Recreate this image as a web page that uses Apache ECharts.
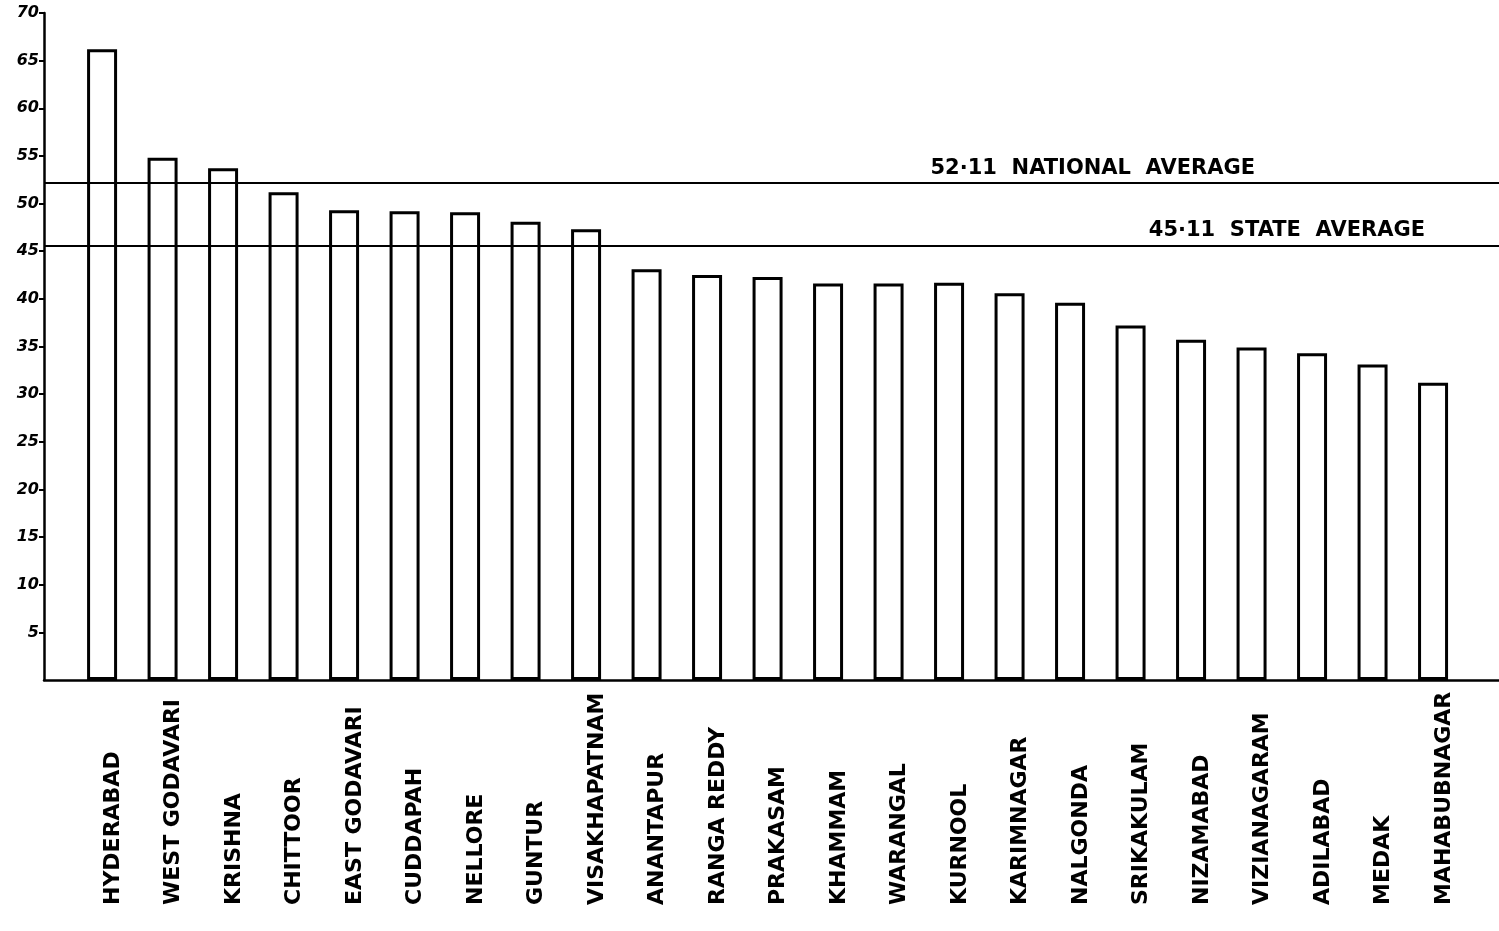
<!DOCTYPE html>
<html>
<head>
<meta charset="utf-8">
<script src="https://cdn.jsdelivr.net/npm/echarts@6/dist/echarts.min.js"></script>
<style>
  html, body { margin: 0; padding: 0; background: #ffffff; }
  #chart { width: 1499px; height: 931px; }
</style>
</head>
<body>
<div id="chart"></div>
<script>
// ---- data ----
const districts = [
  'HYDERABAD', 'WEST GODAVARI', 'KRISHNA', 'CHITTOOR', 'EAST GODAVARI',
  'CUDDAPAH', 'NELLORE', 'GUNTUR', 'VISAKHAPATNAM', 'ANANTAPUR',
  'RANGA REDDY', 'PRAKASAM', 'KHAMMAM', 'WARANGAL', 'KURNOOL',
  'KARIMNAGAR', 'NALGONDA', 'SRIKAKULAM', 'NIZAMABAD', 'VIZIANAGARAM',
  'ADILABAD', 'MEDAK', 'MAHABUBNAGAR'
];
const values = [
  66.2, 54.8, 53.7, 51.2, 49.3,
  49.2, 49.1, 48.1, 47.3, 43.1,
  42.5, 42.3, 41.6, 41.6, 41.7,
  40.6, 39.6, 37.2, 35.7, 34.9,
  34.3, 33.1, 31.2
];
const yTicks = [5, 10, 15, 20, 25, 30, 35, 40, 45, 50, 55, 60, 65, 70];
const nationalAverage = 52.2;   // drawn position
const nationalLabel = '52·11  NATIONAL  AVERAGE';
const stateAverage = 45.6;      // drawn position
const stateLabel = '45·11  STATE  AVERAGE';

// ---- chart ----
const chart = echarts.init(document.getElementById('chart'), null, { renderer: 'canvas' });
const idx = districts.map((d, i) => i);
const barData = values.map((v, i) => [i, v]);

const option = {
  backgroundColor: '#ffffff',
  animation: false,
  grid: { left: 44, right: 0, top: 13, bottom: 251, containLabel: false },
  xAxis: {
    type: 'value',
    min: -0.96,
    max: 23.09,
    axisLine: { show: true, onZero: false, lineStyle: { color: '#000', width: 2.5 } },
    axisTick: { show: false },
    splitLine: { show: false },
    axisLabel: {
      customValues: idx,
      formatter: v => districts[Math.round(v)] || '',
      rotate: 90,
      align: 'left',
      verticalAlign: 'top',
      margin: 225,
      color: '#000',
      fontFamily: 'DejaVu Sans',
      fontSize: 22,
      fontWeight: 'bold'
    }
  },
  yAxis: {
    type: 'value',
    min: 0,
    max: 70,
    interval: 5,
    axisLine: { show: true, onZero: false, lineStyle: { color: '#000', width: 2.5 } },
    axisTick: { show: true, length: 5, customValues: yTicks, lineStyle: { color: '#000', width: 2 } },
    splitLine: { show: false },
    axisLabel: {
      customValues: yTicks,
      formatter: v => String(v),
      color: '#000',
      fontFamily: 'DejaVu Sans',
      fontStyle: 'italic',
      fontWeight: 'bold',
      fontSize: 16,
      margin: 5
    }
  },
  series: [{
    type: 'bar',
    data: barData,
    barWidth: 30,
    itemStyle: { color: '#ffffff', borderColor: '#000', borderWidth: 3 },
    markLine: {
      symbol: 'none',
      silent: true,
      lineStyle: { color: '#000', width: 2, type: 'solid' },
      data: [
        {
          yAxis: nationalAverage,
          label: {
            show: true,
            formatter: nationalLabel,
            position: 'insideEndTop',
            distance: [244, 4],
            color: '#000',
            fontFamily: 'DejaVu Sans',
            fontWeight: 'bold',
            fontSize: 21
          }
        },
        {
          yAxis: stateAverage,
          label: {
            show: true,
            formatter: stateLabel,
            position: 'insideEndTop',
            distance: [74, 4],
            color: '#000',
            fontFamily: 'DejaVu Sans',
            fontWeight: 'bold',
            fontSize: 21
          }
        }
      ]
    }
  }]
};
chart.setOption(option);
</script>
</body>
</html>
